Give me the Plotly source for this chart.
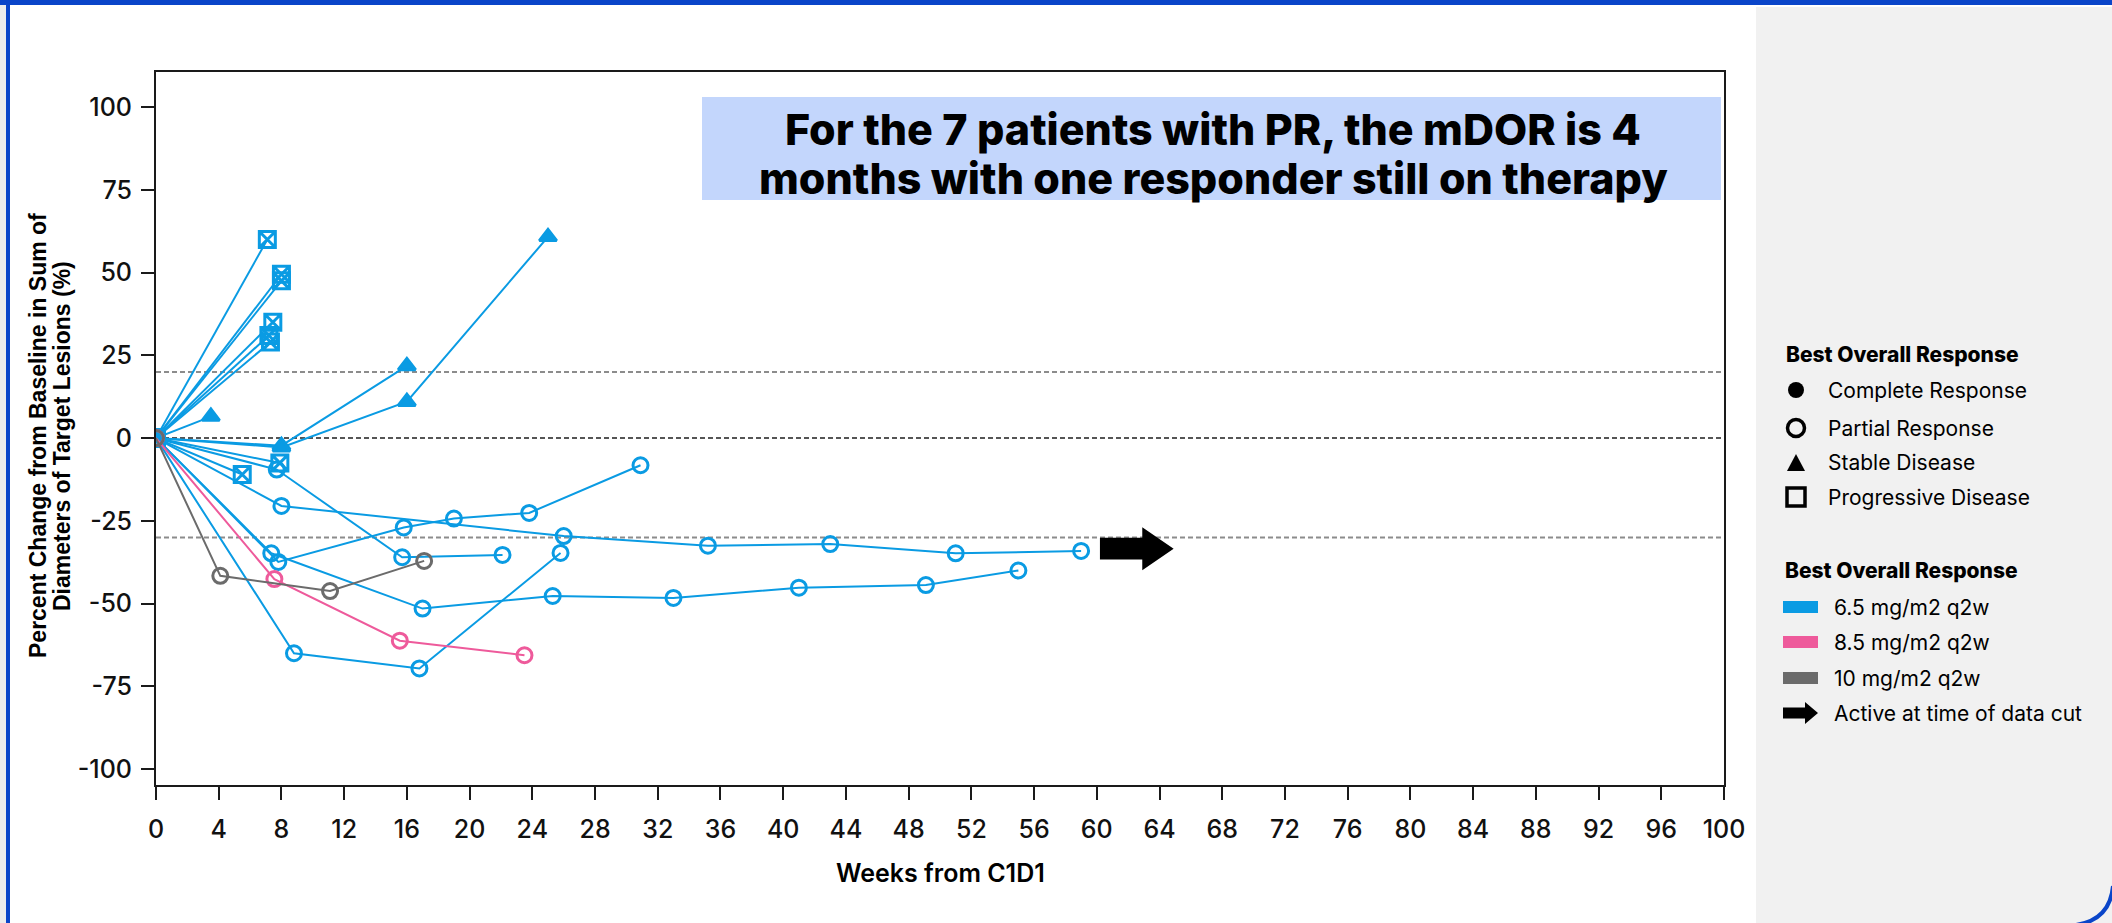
import plotly.graph_objects as go

# ---------------------------------------------------------------------------
# Data: per-patient tumour measurements (weeks from C1D1, % change from baseline)
# ---------------------------------------------------------------------------
patient_weeks = [
    [0, 7.1], [0, 8.0], [0, 8.0], [0, 7.45], [0, 7.2], [0, 7.3], [0, 5.5], [0, 7.9],
    [0, 3.5], [0, 8.0, 16.0], [0, 8.0, 16.0, 25.0],
    [0, 7.7, 15.7, 22.1],
    [0, 7.8, 15.8, 19.0, 23.8, 30.9],
    [0, 7.35, 17.0, 25.3, 33.0, 41.0, 49.1, 55.0],
    [0, 8.0, 26.0, 35.2, 43.0, 51.0, 59.0],
    [0, 8.8, 16.8, 25.8],
    [0, 7.55, 15.55, 23.5],
    [0, 4.1, 11.1, 17.1],
]
patient_pct = [
    [0, 60.0], [0, 49.5], [0, 47.5], [0, 35.0], [0, 31.0], [0, 29.0], [0, -11.0], [0, -7.5],
    [0, 6.5], [0, -2.3, 21.8], [0, -2.8, 11.0, 60.8],
    [0, -9.5, -36.0, -35.3],
    [0, -37.4, -27.0, -24.3, -22.6, -8.2],
    [0, -34.8, -51.5, -47.7, -48.3, -45.2, -44.4, -40.0],
    [0, -20.5, -29.6, -32.5, -32.0, -34.8, -34.1],
    [0, -65.0, -69.6, -34.7],
    [0, -42.6, -61.2, -65.6],
    [0, -41.6, -46.2, -37.1],
]
patient_dose = ["6.5"] * 16 + ["8.5", "10"]
patient_bor = ["PD"] * 8 + ["SD"] * 3 + ["PR"] * 7
patient_active = [False] * 14 + [True] + [False] * 3

dose_labels = ["6.5 mg/m2 q2w", "8.5 mg/m2 q2w", "10 mg/m2 q2w"]
bor_labels = ["Complete Response", "Partial Response", "Stable Disease", "Progressive Disease"]
reference_lines = [20, 0, -30]
x_ticks = list(range(0, 101, 4))
y_ticks = [100, 75, 50, 25, 0, -25, -50, -75, -100]
y_tick_text = ["100", "75", "50", "25", "0", "-25", "-50", "-75", "-100"]
headline_lines = ["For the 7 patients with PR, the mDOR is 4",
                  "months with one responder still on therapy"]
y_title_lines = ["Percent Change from Baseline in Sum of", "Diameters of Target Lesions (%)"]
x_title = "Weeks from C1D1"

# ---------------------------------------------------------------------------
# Styling
# ---------------------------------------------------------------------------
DOSE_COLORS = {"6.5": "#0a9be3", "8.5": "#ee5a9b", "10": "#6b6b6b"}
SYMBOLS = {"PR": "circle-open", "SD": "triangle-up", "PD": "square-x-open", "CR": "circle"}
SIZES = {"PR": 15, "SD": 15, "PD": 16, "CR": 14}
FONT = "Inter, Roboto, Arial, sans-serif"
ARIAL = "Liberation Sans, Arial, sans-serif"

W, H = 2112, 923
PL, PT, PR_, PB = 156, 72, 1724, 785  # plot area in page pixels


def px(x):
    return (x - PL) / (PR_ - PL)


def py(y):
    return (PB - y) / (PB - PT)


fig = go.Figure()

# reference lines (+20 %, 0 %, -30 %)
for ref in reference_lines:
    fig.add_shape(type="line", xref="x", yref="y", x0=0, x1=100, y0=ref, y1=ref,
                  line=dict(color="#555555" if ref == 0 else "#8c8c8c", width=2, dash="5px,3px"),
                  layer="below")

# spider lines, one trace per patient
order = sorted(range(len(patient_weeks)), key=lambda i: ["6.5", "8.5", "10"].index(patient_dose[i]))
for i in order:
    col = DOSE_COLORS[patient_dose[i]]
    bor = patient_bor[i]
    fig.add_trace(go.Scatter(
        x=patient_weeks[i], y=patient_pct[i], mode="lines+markers",
        line=dict(color=col, width=2),
        marker=dict(symbol=SYMBOLS[bor], size=SIZES[bor], color=col,
                    line=dict(color=col, width=3)),
        showlegend=False, hoverinfo="x+y",
    ))
    if patient_active[i]:
        wx, wy = patient_weeks[i][-1], patient_pct[i][-1] + 0.7
        a0, a1, a2 = wx + 1.2, wx + 3.9, wx + 5.9
        bh, hh = 3.3, 6.5
        fig.add_shape(type="path", xref="x", yref="y",
                      path=(f"M {a0},{wy - bh} L {a1},{wy - bh} L {a1},{wy - hh} L {a2},{wy} "
                            f"L {a1},{wy + hh} L {a1},{wy + bh} L {a0},{wy + bh} Z"),
                      fillcolor="black", line=dict(width=0))

# page decorations: grey legend panel, blue frame
fig.add_shape(type="rect", xref="paper", yref="paper", x0=px(1756), x1=px(W + 5),
              y0=py(H + 5), y1=py(7), fillcolor="#f1f1f1", line=dict(width=0), layer="below")
fig.add_shape(type="rect", xref="paper", yref="paper", x0=px(-5), x1=px(W + 5),
              y0=py(5), y1=py(-5), fillcolor="#0a45c9", line=dict(width=0))
fig.add_shape(type="rect", xref="paper", yref="paper", x0=px(-5), x1=px(6),
              y0=py(H + 5), y1=py(5), fillcolor="#ececec", line=dict(width=0))
fig.add_shape(type="rect", xref="paper", yref="paper", x0=px(6), x1=px(10),
              y0=py(H + 5), y1=py(0), fillcolor="#0a45c9", line=dict(width=0))
fig.add_shape(type="path", xref="paper", yref="paper",
              path=f"M {px(2076)},{py(925)} Q {px(2110)},{py(920)} {px(2113)},{py(886)}",
              line=dict(color="#0a45c9", width=4))

# headline box
fig.add_shape(type="rect", xref="paper", yref="paper", x0=px(702), x1=px(1721),
              y0=py(200), y1=py(97), fillcolor="#c3d6fc", line=dict(width=0), layer="below")
for txt, yy in zip(headline_lines, [129, 178]):
    fig.add_annotation(xref="paper", yref="paper", x=px(1213), y=py(yy), text=txt,
                       showarrow=False, xanchor="center", yanchor="middle",
                       font=dict(family=FONT, size=43, weight=800, color="black"))

# axis titles
fig.add_annotation(xref="paper", yref="paper", x=px(940), y=py(873), text=x_title,
                   showarrow=False, xanchor="center", yanchor="middle",
                   font=dict(family=FONT, size=25, weight=600, color="black"))
for txt, xx in zip(y_title_lines, [38, 62]):
    fig.add_annotation(xref="paper", yref="paper", x=px(xx), y=py(436), text=txt,
                       textangle=-90, showarrow=False, xanchor="center", yanchor="middle",
                       font=dict(family=ARIAL, size=23, weight=700, color="black"))

# ---------------------------------------------------------------------------
# Legend (drawn in the grey panel)
# ---------------------------------------------------------------------------
LEG_TEXT = dict(family=FONT, size=21, color="black")
LEG_TITLE = dict(family=FONT, size=21, weight=800, color="black")
mx = 1796
fig.add_annotation(xref="paper", yref="paper", x=px(1784), y=py(354), text="Best Overall Response",
                   showarrow=False, xanchor="left", yanchor="middle", font=LEG_TITLE)
bor_y = [390, 428, 463, 497]
for lab, yy in zip(bor_labels, bor_y):
    fig.add_annotation(xref="paper", yref="paper", x=px(1826), y=py(yy), text=lab,
                       showarrow=False, xanchor="left", yanchor="middle", font=LEG_TEXT)
# complete response: filled circle
fig.add_shape(type="circle", xref="paper", yref="paper", x0=px(mx - 8), x1=px(mx + 8),
              y0=py(bor_y[0] + 8), y1=py(bor_y[0] - 8), fillcolor="black", line=dict(width=0))
# partial response: open circle
fig.add_shape(type="circle", xref="paper", yref="paper", x0=px(mx - 8.5), x1=px(mx + 8.5),
              y0=py(bor_y[1] + 8.5), y1=py(bor_y[1] - 8.5), fillcolor="rgba(0,0,0,0)",
              line=dict(color="black", width=3.5))
# stable disease: triangle
ty = bor_y[2]
fig.add_shape(type="path", xref="paper", yref="paper",
              path=f"M {px(mx - 9)},{py(ty + 8)} L {px(mx + 9)},{py(ty + 8)} L {px(mx)},{py(ty - 9)} Z",
              fillcolor="black", line=dict(width=0))
# progressive disease: open square
qy = bor_y[3]
fig.add_shape(type="rect", xref="paper", yref="paper", x0=px(mx - 9), x1=px(mx + 9),
              y0=py(qy + 9), y1=py(qy - 9), fillcolor="rgba(0,0,0,0)",
              line=dict(color="black", width=3.5))

fig.add_annotation(xref="paper", yref="paper", x=px(1783), y=py(570), text="Best Overall Response",
                   showarrow=False, xanchor="left", yanchor="middle", font=LEG_TITLE)
dose_y = [607, 642, 678]
for lab, key, yy in zip(dose_labels, ["6.5", "8.5", "10"], dose_y):
    fig.add_shape(type="rect", xref="paper", yref="paper", x0=px(1783), x1=px(1818),
                  y0=py(yy + 6), y1=py(yy - 6), fillcolor=DOSE_COLORS[key], line=dict(width=0))
    fig.add_annotation(xref="paper", yref="paper", x=px(1832), y=py(yy), text=lab,
                       showarrow=False, xanchor="left", yanchor="middle", font=LEG_TEXT)
ay = 713
fig.add_shape(type="path", xref="paper", yref="paper",
              path=(f"M {px(1783)},{py(ay - 5.5)} L {px(1805)},{py(ay - 5.5)} L {px(1805)},{py(ay - 11)} "
                    f"L {px(1818)},{py(ay)} L {px(1805)},{py(ay + 11)} L {px(1805)},{py(ay + 5.5)} "
                    f"L {px(1783)},{py(ay + 5.5)} Z"),
              fillcolor="black", line=dict(width=0))
fig.add_annotation(xref="paper", yref="paper", x=px(1832), y=py(ay), text="Active at time of data cut",
                   showarrow=False, xanchor="left", yanchor="middle", font=LEG_TEXT)

# ---------------------------------------------------------------------------
# Axes and layout
# ---------------------------------------------------------------------------
axis_common = dict(showgrid=False, zeroline=False, showline=True, linecolor="#1a1a1a", linewidth=2,
                   mirror=True, ticks="outside", tickcolor="#1a1a1a", tickwidth=2, ticklen=13,
                   tickfont=dict(family=FONT, size=25, weight=500, color="#111111"))
fig.update_xaxes(range=[0, 100], tickmode="array", tickvals=x_ticks, ticklabelstandoff=8, **axis_common)
fig.update_yaxes(range=[-104.8, 110.6], tickmode="array", tickvals=y_ticks, ticktext=y_tick_text,
                 ticklabelstandoff=4, **axis_common)

fig.update_layout(
    width=W, height=H, autosize=False,
    margin=dict(l=PL, r=W - PR_, t=PT, b=H - PB, pad=0),
    paper_bgcolor="white", plot_bgcolor="white",
    showlegend=False,
)

fig.write_html("out.html")
